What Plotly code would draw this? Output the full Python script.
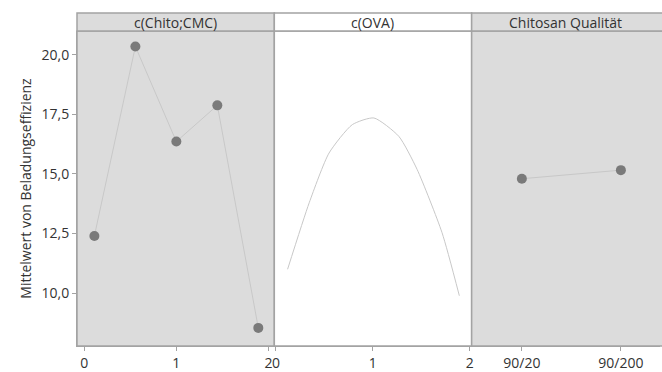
import plotly.graph_objects as go

# ---- data ----
chito_x = [0.11, 0.555, 1.0, 1.445, 1.89]
chito_y = [12.40, 20.35, 16.36, 17.88, 8.54]

ova_x = [0.12, 0.343, 0.548, 0.788, 1.011, 1.268, 1.457, 1.714, 1.893]
ova_y = [11.0, 13.79, 15.88, 17.07, 17.35, 16.58, 15.19, 12.54, 9.89]

qual_cats = ["90/20", "90/200"]
qual_y = [14.80, 15.16]

panel_titles = ["c(Chito;CMC)", "c(OVA)", "Chitosan Qualität"]
y_title = "Mittelwert von Beladungseffizienz"
y_ticks = [10.0, 12.5, 15.0, 17.5, 20.0]
y_ticktext = ["10,0", "12,5", "15,0", "17,5", "20,0"]

# ---- style ----
FONT = "Open Sans, Segoe UI, DejaVu Sans, sans-serif"
GRAY_BG = "#dcdcdc"
BORDER = "#a3a3a3"
LINE = "#c8c8c8"
MARK = "#7a7a7a"
TXT = "#333333"

fig = go.Figure()

fig.add_trace(go.Scatter(x=chito_x, y=chito_y, mode="lines+markers",
                         line=dict(color=LINE, width=1),
                         marker=dict(color=MARK, size=10),
                         xaxis="x", yaxis="y", showlegend=False))
fig.add_trace(go.Scatter(x=ova_x, y=ova_y, mode="lines",
                         line=dict(color=LINE, width=1, shape="spline", smoothing=0.6),
                         xaxis="x2", yaxis="y", showlegend=False))
fig.add_trace(go.Scatter(x=list(range(len(qual_cats))), y=qual_y, mode="lines+markers",
                         line=dict(color=LINE, width=1),
                         marker=dict(color=MARK, size=10),
                         xaxis="x3", yaxis="y", showlegend=False))

d1 = 198 / 585
d2 = 396 / 585

common_x = dict(showgrid=False, zeroline=False, showline=True, linecolor=BORDER, linewidth=1,
                ticks="outside", ticklen=4, tickcolor=BORDER,
                tickfont=dict(family=FONT, size=14, color=TXT), anchor="y")

fig.update_layout(
    width=662, height=372,
    margin=dict(l=77, r=0, t=31, b=25),
    paper_bgcolor="white", plot_bgcolor="rgba(0,0,0,0)",
    font=dict(family=FONT, color=TXT),
    xaxis=dict(domain=[0, d1], range=[-0.079, 2.064], tickvals=[0, 1, 2], ticktext=["0", "1", "2"], **common_x),
    xaxis2=dict(domain=[d1, d2], range=[-0.017, 2.02], tickvals=[0, 1, 2], ticktext=["0", "1", "2"], **common_x),
    xaxis3=dict(domain=[d2, 1], range=[-0.507, 1.395], tickvals=list(range(len(qual_cats))),
                ticktext=qual_cats, **common_x),
    yaxis=dict(domain=[0, 1], range=[7.78, 21.0], tickvals=y_ticks, ticktext=y_ticktext,
               showgrid=False, zeroline=False, showline=True, linecolor=BORDER, linewidth=1,
               ticks="outside", ticklen=4, tickcolor=BORDER,
               tickfont=dict(family=FONT, size=14, color=TXT),
               title=dict(text=y_title, font=dict(family=FONT, size=14, color=TXT), standoff=6)),
)

hdr = 18 / 316
shapes = []
annotations = []
bgs = [GRAY_BG, "white", GRAY_BG]
right_ext = [1, 1, 1.03]
for i, ax in enumerate(["x", "x2", "x3"]):
    xr = ax + " domain"
    shapes.append(dict(type="rect", xref=xr, yref="y domain", x0=0, x1=right_ext[i], y0=0, y1=1,
                       fillcolor=bgs[i], line=dict(color=BORDER, width=1.5), layer="below"))
    shapes.append(dict(type="rect", xref=xr, yref="y domain", x0=0, x1=right_ext[i], y0=1, y1=1 + hdr,
                       fillcolor=bgs[i], line=dict(color=BORDER, width=1.5), layer="below"))
    annotations.append(dict(text=panel_titles[i], xref=xr, yref="y domain", x=0.5, y=1 + hdr / 2,
                            showarrow=False, font=dict(family=FONT, size=14, color=TXT),
                            xanchor="center", yanchor="middle"))
fig.update_layout(shapes=shapes, annotations=annotations)

fig.write_html("out.html", config={"displayModeBar": False},
               post_script="document.body.style.margin='0';document.body.style.overflow='hidden';")
